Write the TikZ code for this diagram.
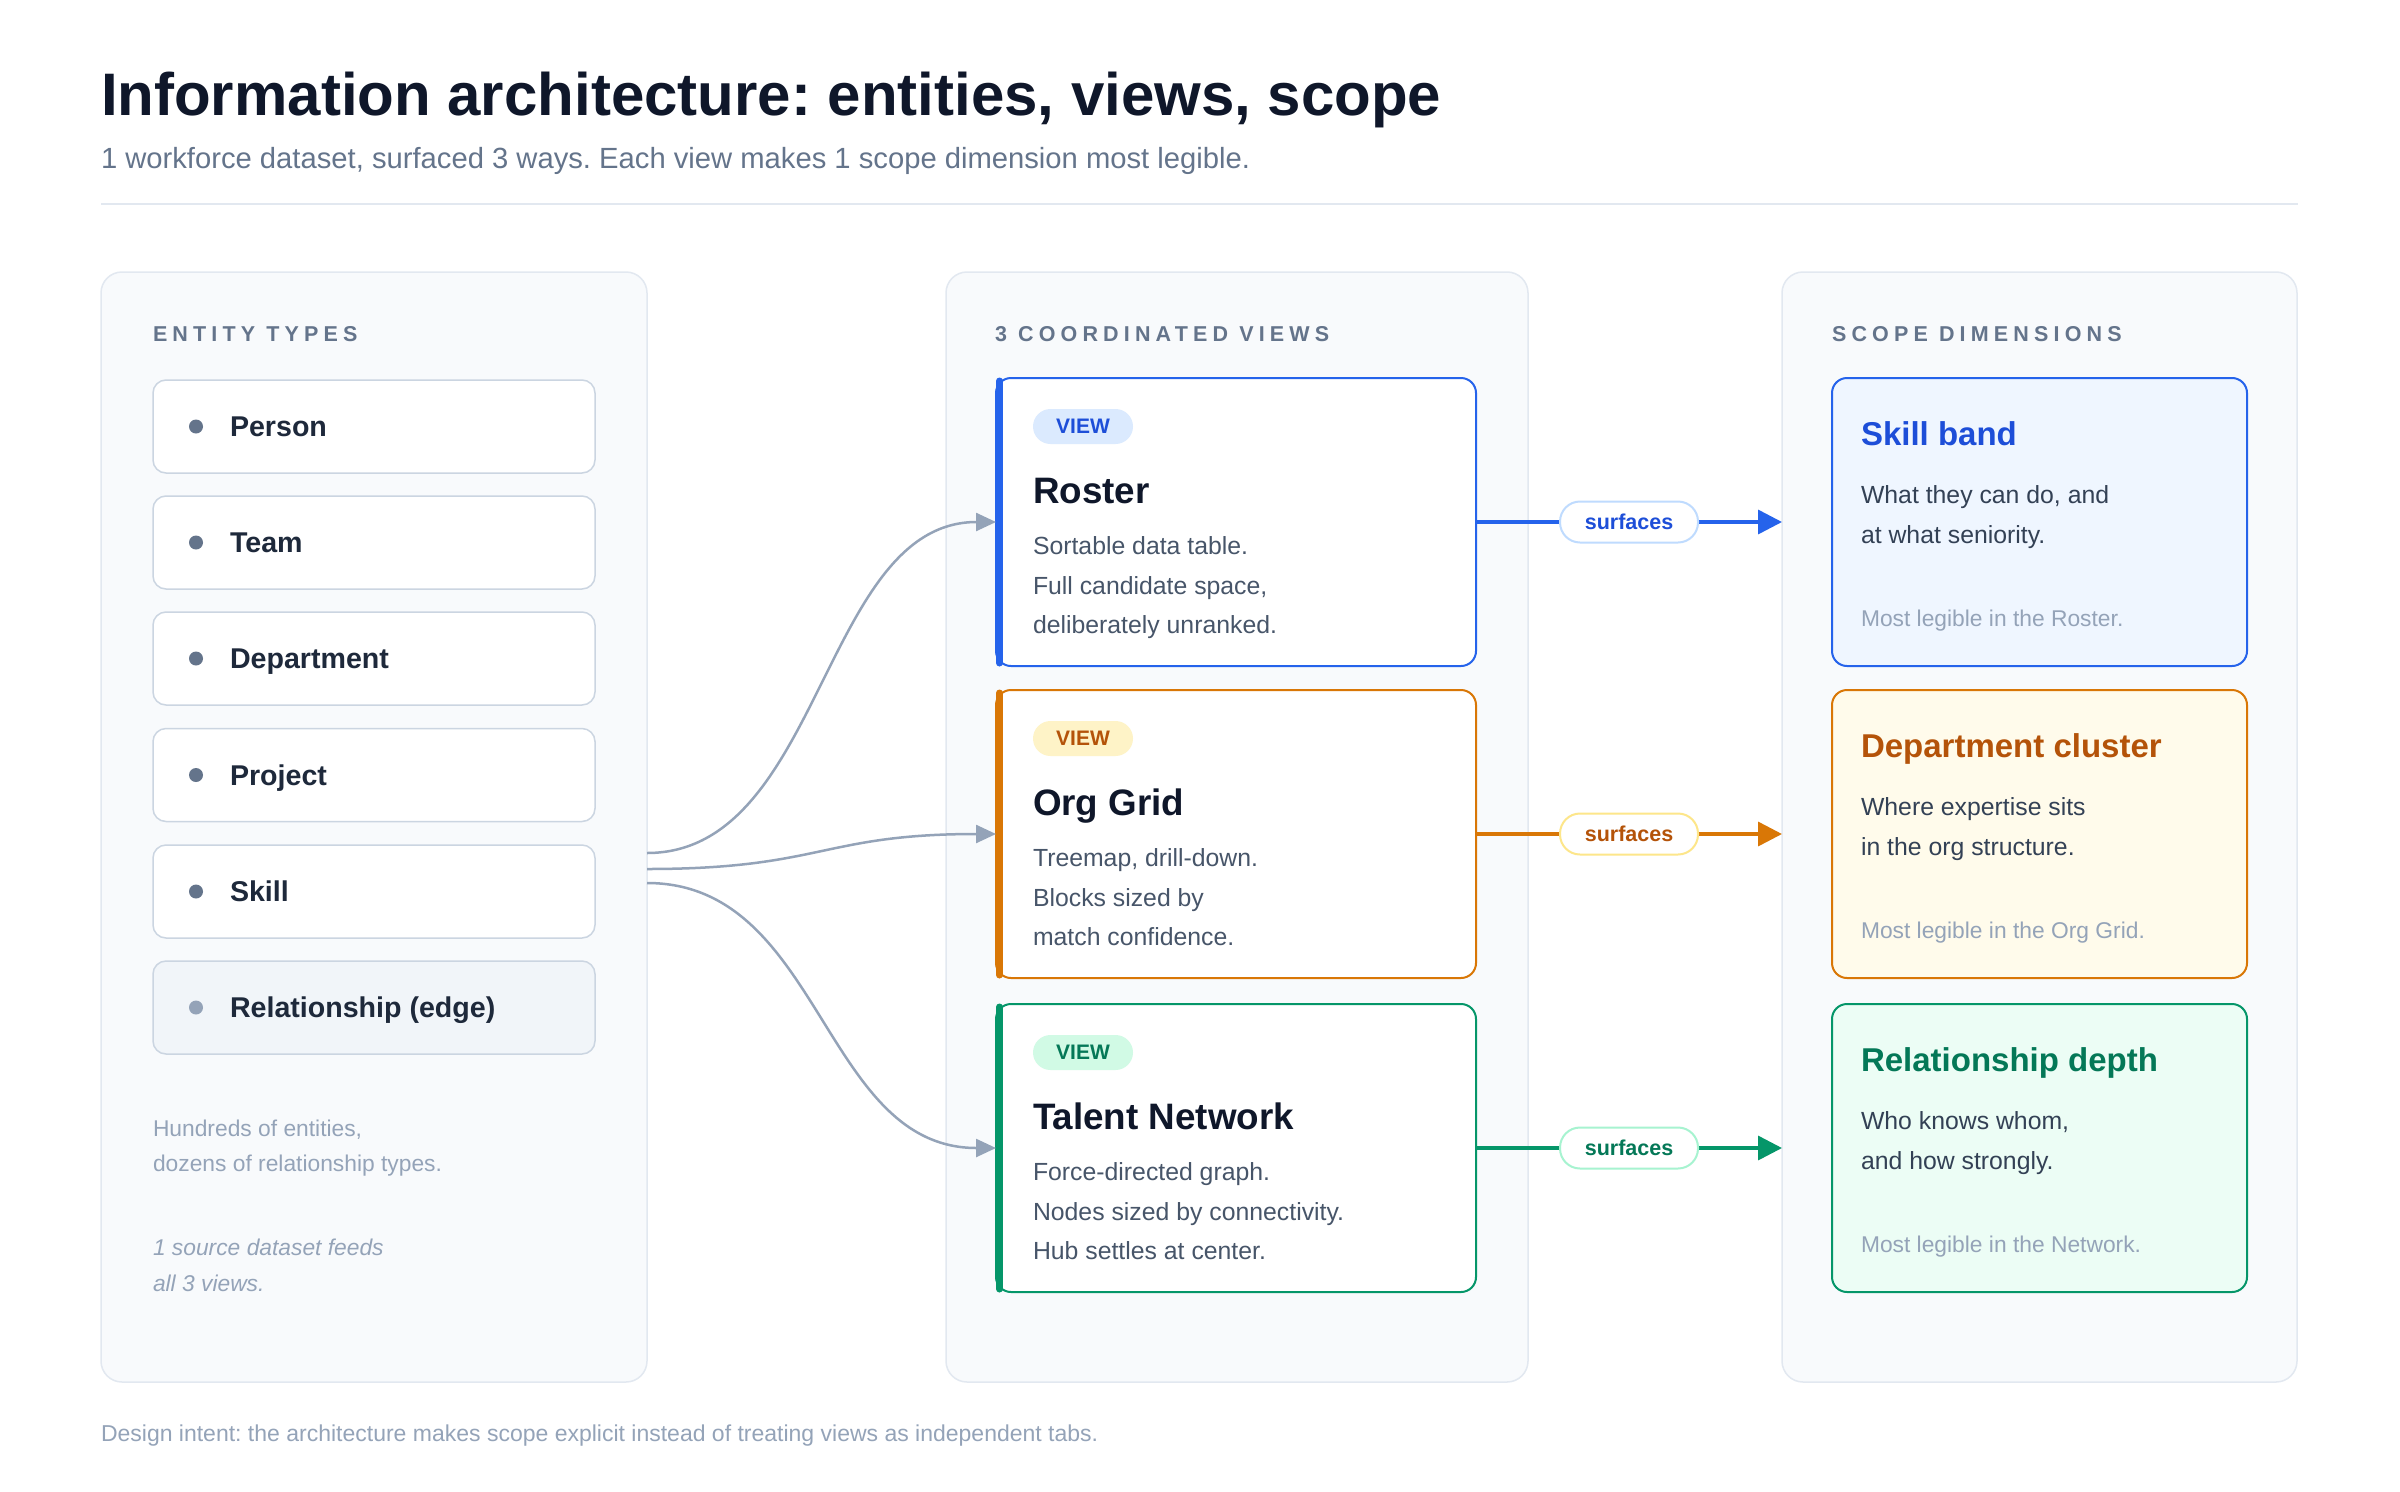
\documentclass[tikz,border=0pt]{standalone}
\usepackage{fontspec}
\setmainfont{Liberation Sans}
\newfontfamily\trackfont[LetterSpace=24]{Liberation Sans}
\usetikzlibrary{arrows.meta}
\newcommand\setfs[1]{\fontsize{#1}{#1}\selectfont}
\frenchspacing
\definecolor{ink}{HTML}{0F172A}
\definecolor{inktwo}{HTML}{1E293B}
\definecolor{slate}{HTML}{64748B}
\definecolor{slatedk}{HTML}{475569}
\definecolor{slatedd}{HTML}{334155}
\definecolor{mute}{HTML}{94A3B8}
\definecolor{rulec}{HTML}{E2E8F0}
\definecolor{panelbg}{HTML}{F8FAFC}
\definecolor{entbd}{HTML}{CBD5E1}
\definecolor{relbg}{HTML}{F1F5F9}
\definecolor{blueac}{HTML}{2563EB}
\definecolor{bluedk}{HTML}{1D4ED8}
\definecolor{bluebg}{HTML}{DBEAFE}
\definecolor{bluept}{HTML}{EFF6FF}
\definecolor{bluebd}{HTML}{BFDBFE}
\definecolor{ambac}{HTML}{D97706}
\definecolor{ambdk}{HTML}{B45309}
\definecolor{ambbg}{HTML}{FEF3C7}
\definecolor{ambpt}{HTML}{FFFBEB}
\definecolor{ambbd}{HTML}{FDE68A}
\definecolor{grnac}{HTML}{059669}
\definecolor{grndk}{HTML}{047857}
\definecolor{grnbg}{HTML}{D1FAE5}
\definecolor{grnpt}{HTML}{ECFDF5}
\definecolor{grnbd}{HTML}{A7F3D0}
\begin{document}
\begin{tikzpicture}[x=1pt,y=-1pt,
  txt/.style={anchor=base west,inner sep=0pt,outer sep=0pt},
  panel/.style={draw=rulec,line width=1.5pt,fill=panelbg,rounded corners=21pt,inner sep=0pt,outer sep=0pt},
  entbox/.style={draw=entbd,line width=1.5pt,fill=white,rounded corners=13pt,minimum width=442pt,minimum height=93pt,inner sep=0pt,outer sep=0pt},
  entlabel/.style={txt,font=\setfs{28.6}\bfseries,text=inktwo},
  hdr/.style={txt,font=\setfs{21.5}\trackfont\bfseries,text=slate},
  vcard/.style={line width=2pt,fill=white,rounded corners=15pt,minimum width=480pt,minimum height=288pt,inner sep=0pt,outer sep=0pt},
  scard/.style={line width=2pt,rounded corners=15pt,minimum width=415pt,minimum height=288pt,inner sep=0pt,outer sep=0pt},
  viewpill/.style={rounded corners=17.5pt,minimum width=100pt,minimum height=35pt,inner sep=0pt,font=\setfs{21}\bfseries},
  vtitle/.style={txt,font=\setfs{36.8}\bfseries,text=ink},
  vdesc/.style={txt,font=\setfs{24.8},text=slatedk},
  stitle/.style={txt,font=\setfs{33}\bfseries},
  sdesc/.style={txt,font=\setfs{24.8},text=slatedd},
  snote/.style={txt,font=\setfs{22.8},text=mute},
  spill/.style={fill=white,line width=2pt,rounded corners=20pt,minimum width=138pt,minimum height=41pt,inner sep=0pt,font=\setfs{21.5}\bfseries},
  conn/.style={draw=mute,line width=2.5pt,-{Triangle[length=20pt,width=18pt]}},
  sarrow/.style={line width=3.5pt,-{Triangle[length=24pt,width=24pt]}},
  accent/.style={line width=7pt,line cap=round}
]
\fill[white] (0,0) rectangle (2400,1491);
\useasboundingbox (0,0) rectangle (2400,1491);

% header
\node[txt,font=\setfs{60}\bfseries,text=ink] (title) at (101,115) {Information architecture: entities, views, scope};
\node[txt,font=\setfs{29.2},text=slate] (subtitle) at (101,168) {1 workforce dataset, surfaced 3 ways. Each view makes 1 scope dimension most legible.};
\draw[rulec,line width=2pt] (101,204) -- (2298,204);

% panels
\node[panel,minimum width=546pt,minimum height=1110pt] (lpanel) at (374,827) {};
\node[panel,minimum width=582pt,minimum height=1110pt] (mpanel) at (1237,827) {};
\node[panel,minimum width=515pt,minimum height=1110pt] (rpanel) at (2039.5,827) {};

\node[hdr] (lhdr) at (153,341.5) {ENTITY TYPES};
\node[hdr] (mhdr) at (995,341.5) {3 COORDINATED VIEWS};
\node[hdr] (rhdr) at (1832,341.5) {SCOPE DIMENSIONS};

% entity types
\foreach \i/\t/\y in {1/Person/426.5,2/Team/542.5,3/Department/658.5,4/Project/775,5/Skill/891.5}{
  \node[entbox] (e\i) at (374,\y) {};
  \fill[slate] (196,\y) circle (7);
  \node[entlabel] (el\i) at (230,\y+10) {\t};
}
\node[entbox,fill=relbg] (e6) at (374,1007.5) {};
\fill[mute] (196,1007.5) circle (7);
\node[entlabel] (el6) at (230,1017.5) {Relationship (edge)};

\node[snote] (n1) at (153,1136) {Hundreds of entities,};
\node[snote] (n2) at (153,1171) {dozens of relationship types.};
\node[snote,font=\setfs{22.8}\itshape] (n3) at (153,1255) {1 source dataset feeds};
\node[snote,font=\setfs{22.8}\itshape] (n4) at (153,1291) {all 3 views.};

% view cards
\node[vcard,draw=blueac] (roster) at (1236,522) {};
\draw[accent,blueac] (999.5,381) -- (999.5,663);
\node[viewpill,fill=bluebg,text=bluedk] (p1) at (1083,426.5) {VIEW};
\node[vtitle] (t1) at (1033,503) {Roster};
\node[vdesc] (d11) at (1033,554) {Sortable data table.};
\node[vdesc] (d12) at (1033,594) {Full candidate space,};
\node[vdesc] (d13) at (1033,633) {deliberately unranked.};

\node[vcard,draw=ambac] (orggrid) at (1236,834) {};
\draw[accent,ambac] (999.5,693) -- (999.5,975);
\node[viewpill,fill=ambbg,text=ambdk] (p2) at (1083,738.5) {VIEW};
\node[vtitle] (t2) at (1033,815) {Org Grid};
\node[vdesc] (d21) at (1033,866) {Treemap, drill-down.};
\node[vdesc] (d22) at (1033,906) {Blocks sized by};
\node[vdesc] (d23) at (1033,945) {match confidence.};

\node[vcard,draw=grnac] (talent) at (1236,1148) {};
\draw[accent,grnac] (999.5,1007) -- (999.5,1289);
\node[viewpill,fill=grnbg,text=grndk] (p3) at (1083,1052.5) {VIEW};
\node[vtitle] (t3) at (1033,1129) {Talent Network};
\node[vdesc] (d31) at (1033,1180) {Force-directed graph.};
\node[vdesc] (d32) at (1033,1220) {Nodes sized by connectivity.};
\node[vdesc] (d33) at (1033,1259) {Hub settles at center.};

% scope cards
\node[scard,draw=blueac,fill=bluept] (skill) at (2039.5,522) {};
\node[stitle,text=bluedk] (s1t) at (1861,445) {Skill band};
\node[sdesc] (s1a) at (1861,503) {What they can do, and};
\node[sdesc] (s1b) at (1861,543) {at what seniority.};
\node[snote] (s1n) at (1861,626) {Most legible in the Roster.};

\node[scard,draw=ambac,fill=ambpt] (dept) at (2039.5,834) {};
\node[stitle,text=ambdk] (s2t) at (1861,757) {Department cluster};
\node[sdesc] (s2a) at (1861,815) {Where expertise sits};
\node[sdesc] (s2b) at (1861,855) {in the org structure.};
\node[snote] (s2n) at (1861,938) {Most legible in the Org Grid.};

\node[scard,draw=grnac,fill=grnpt] (reldepth) at (2039.5,1148) {};
\node[stitle,text=grndk] (s3t) at (1861,1071) {Relationship depth};
\node[sdesc] (s3a) at (1861,1129) {Who knows whom,};
\node[sdesc] (s3b) at (1861,1169) {and how strongly.};
\node[snote] (s3n) at (1861,1252) {Most legible in the Network.};

% connectors entity -> views
\coordinate (src1) at (647,853);
\coordinate (src2) at (647,869);
\coordinate (src3) at (647,883);
\draw[conn] (src1) .. controls (822,853) and (822,522) .. (roster.west);
\draw[conn] (src2) .. controls (822,869) and (822,834) .. (orggrid.west);
\draw[conn] (src3) .. controls (822,883) and (822,1148) .. (talent.west);

% surfaces arrows
\coordinate (tg1) at (rpanel.west |- roster.east);
\coordinate (tg2) at (rpanel.west |- orggrid.east);
\coordinate (tg3) at (rpanel.west |- talent.east);
\draw[sarrow,blueac] (roster.east) -- node[spill,draw=bluebd,text=bluedk] (sp1) {surfaces} (tg1);
\draw[sarrow,ambac] (orggrid.east) -- node[spill,draw=ambbd,text=ambdk] (sp2) {surfaces} (tg2);
\draw[sarrow,grnac] (talent.east) -- node[spill,draw=grnbd,text=grndk] (sp3) {surfaces} (tg3);

% footer
\node[txt,font=\setfs{23},text=mute] (footer) at (101,1441) {Design intent: the architecture makes scope explicit instead of treating views as independent tabs.};
\end{tikzpicture}
\end{document}
